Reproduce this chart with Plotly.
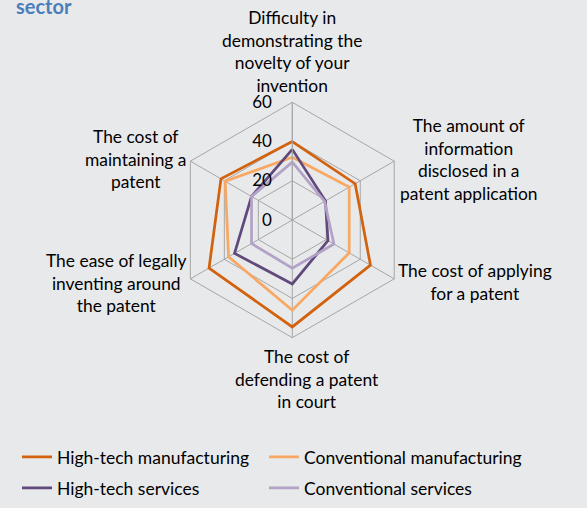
import plotly.graph_objects as go

categories = [
    "Difficulty in<br>demonstrating the<br>novelty of your<br>invention",
    "The amount of<br>information<br>disclosed in a<br>patent application",
    "The cost of applying<br>for a patent",
    "The cost of<br>defending a patent<br>in court",
    "The ease of legally<br>inventing around<br>the patent",
    "The cost of<br>maintaining a<br>patent",
]
series_names = ["High-tech manufacturing", "Conventional manufacturing",
                "High-tech services", "Conventional services"]
hightech_manuf = [40, 37, 46, 54.5, 49, 42]
conv_manuf = [32, 33.5, 33.5, 46, 37.5, 39.5]
hightech_serv = [36, 19.5, 21, 32.6, 34, 24]
conv_serv = [29.5, 19, 24.5, 24.6, 24, 24]
radial_ticks = [0, 20, 40, 60]

colors = ["#D2620E", "#F9A863", "#604A7B", "#B3A2C7"]
values = [hightech_manuf, conv_manuf, hightech_serv, conv_serv]
legend_ids = ["legend", "legend2", "legend3", "legend4"]
# legend placement (pixels, layout only): left x of legend box, row centre y
legend_pos = [(17, 457), (264, 457), (17, 488), (264, 488)]

W, H = 587, 508
cx, cy, R = 292.3, 220.0, 117.7
FONT = "Lato"
GRID = "#A6A6A6"
BG = "#E8E9EB"

# category label placement (pixel centres, layout only)
label_pos = [(292, 51.5), (468, 159.5), (474.5, 282), (306.5, 379), (116.5, 282.5), (135, 158.5)]

fig = go.Figure()
for name, vals, col, lg in zip(series_names, values, colors, legend_ids):
    fig.add_trace(go.Scatterpolar(
        r=vals + vals[:1], theta=categories + categories[:1],
        mode="lines", name=name, line=dict(color=col, width=2.75),
        legend=lg, showlegend=True, hoverinfo="skip",
    ))

annotations = [dict(text="<b>sector</b>", x=14 / W, y=1, xref="paper", yref="paper",
                    xanchor="left", yanchor="middle", yshift=-6, showarrow=False,
                    font=dict(size=20, family=FONT, color="#4A7EBB"))]
for cat, (px, py) in zip(categories, label_pos):
    annotations.append(dict(text=cat, x=px / W, y=1 - py / H, xref="paper", yref="paper",
                            xanchor="center", yanchor="middle", align="center",
                            showarrow=False, font=dict(size=17.4, family=FONT, color="#000000")))

legend_layouts = {}
for lg, (lx, ly) in zip(legend_ids, legend_pos):
    legend_layouts[lg] = dict(orientation="h", x=lx / W, y=1 - ly / H, xanchor="left",
                              yanchor="middle", bgcolor="rgba(0,0,0,0)", visible=True,
                              font=dict(size=17.5, family=FONT), itemwidth=30)

fig.update_layout(
    width=W, height=H, margin=dict(l=0, r=0, t=0, b=0),
    paper_bgcolor=BG, plot_bgcolor=BG, showlegend=True,
    font=dict(family=FONT, size=16, color="#000000"),
    polar=dict(
        bgcolor=BG,
        domain=dict(x=[(cx - R) / W, (cx + R) / W],
                    y=[(H - cy - R) / H, (H - cy + R) / H]),
        gridshape="linear",
        angularaxis=dict(rotation=90, direction="clockwise", type="category",
                         categoryorder="array", categoryarray=categories,
                         showgrid=True, gridcolor=GRID, gridwidth=1,
                         showline=True, linecolor=GRID, linewidth=1,
                         ticks="", showticklabels=False),
        radialaxis=dict(range=[0, 60], tickvals=radial_ticks, angle=90,
                        side="counterclockwise", tickangle=90,
                        showgrid=True, gridcolor=GRID, gridwidth=1,
                        showline=True, linecolor=GRID, linewidth=1,
                        ticks="outside", ticklen=14, tickcolor="rgba(0,0,0,0)",
                        tickfont=dict(size=17, family=FONT)),
    ),
    annotations=annotations,
    **legend_layouts,
)

fig.write_html("out.html", config={"displayModeBar": False})
with open("out.html", encoding="utf-8") as f:
    html = f.read()
html = html.replace("<head>", "<head><style>html,body{margin:0;padding:0;overflow:hidden;}</style>", 1)
with open("out.html", "w", encoding="utf-8") as f:
    f.write(html)
